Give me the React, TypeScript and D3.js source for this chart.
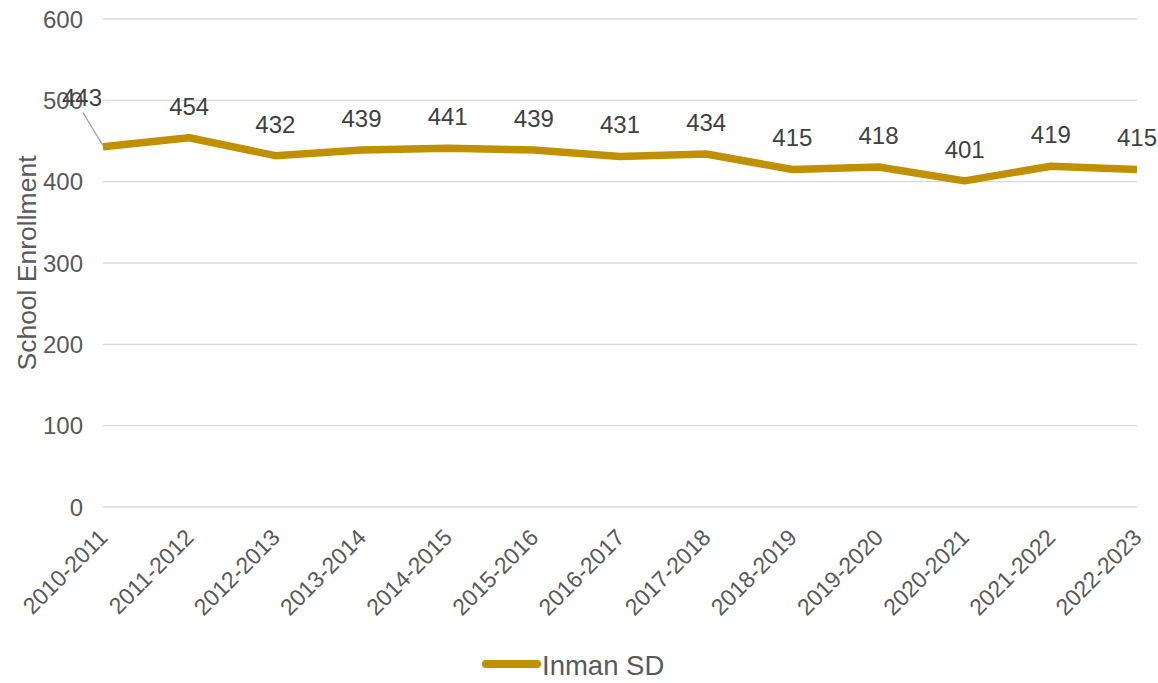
import React, { useEffect, useRef } from 'react';
import * as d3 from 'd3';

const years = [
  '2010-2011', '2011-2012', '2012-2013', '2013-2014', '2014-2015', '2015-2016', '2016-2017',
  '2017-2018', '2018-2019', '2019-2020', '2020-2021', '2021-2022', '2022-2023',
];
const enrollment = [443, 454, 432, 439, 441, 439, 431, 434, 415, 418, 401, 419, 415];
const yTicks = [0, 100, 200, 300, 400, 500, 600];
const seriesName = 'Inman SD';

export default function App() {
  const ref = useRef<SVGSVGElement | null>(null);

  useEffect(() => {
    if (!ref.current) return;
    const svg = d3.select(ref.current);
    svg.selectAll('*').remove();

    const W = 1158, H = 683;
    const left = 103, right = 1137, top = 19, bottom = 507;
    const font = 'Liberation Sans, Arial, sans-serif';
    const color = '#BF9000';

    const x = d3.scalePoint<string>().domain(years).range([left, right]).padding(0);
    const y = d3.scaleLinear().domain([0, 600]).range([bottom, top]);

    svg.attr('width', W).attr('height', H);

    // gridlines
    svg.append('g').selectAll('line').data(yTicks).enter().append('line')
      .attr('x1', left).attr('x2', right)
      .attr('y1', d => y(d)).attr('y2', d => y(d))
      .attr('stroke', '#d9d9d9').attr('stroke-width', 1.3);

    // y tick labels
    svg.append('g').selectAll('text').data(yTicks).enter().append('text')
      .attr('x', 83).attr('y', d => y(d)).attr('dy', '0.36em')
      .attr('text-anchor', 'end').attr('font-family', font).attr('font-size', 24)
      .attr('fill', '#595959').text(d => d);

    // y title
    svg.append('text')
      .attr('transform', `translate(36, ${(top + bottom) / 2}) rotate(-90)`)
      .attr('text-anchor', 'middle').attr('font-family', font).attr('font-size', 26.5)
      .attr('fill', '#595959').text('School Enrollment');

    // x tick labels
    svg.append('g').selectAll('text').data(years).enter().append('text')
      .attr('transform', d => `translate(${(x(d) as number) + 6}, ${bottom + 32}) rotate(-45)`)
      .attr('text-anchor', 'end').attr('font-family', font).attr('font-size', 23)
      .attr('fill', '#595959').text(d => d);

    // line
    const line = d3.line<number>()
      .x((_, i) => x(years[i]) as number)
      .y(d => y(d));
    svg.append('path').datum(enrollment)
      .attr('d', line)
      .attr('fill', 'none').attr('stroke', color).attr('stroke-width', 7.5)
      .attr('stroke-linejoin', 'round');

    // data labels
    const lbl = svg.append('g');
    enrollment.forEach((v, i) => {
      const px = x(years[i]) as number;
      const py = y(v);
      if (i === 0) {
        lbl.append('line')
          .attr('x1', px - 20).attr('y1', py - 34).attr('x2', px).attr('y2', py - 1)
          .attr('stroke', '#a6a6a6').attr('stroke-width', 1.3);
        lbl.append('text')
          .attr('x', px - 21).attr('y', py - 41)
          .attr('text-anchor', 'middle').attr('font-family', font).attr('font-size', 24)
          .attr('fill', '#404040').text(v);
      } else {
        lbl.append('text')
          .attr('x', px).attr('y', py - 23)
          .attr('text-anchor', 'middle').attr('font-family', font).attr('font-size', 24)
          .attr('fill', '#404040').text(v);
      }
    });

    // legend
    const lg = svg.append('g');
    lg.append('line')
      .attr('x1', 486).attr('x2', 537).attr('y1', 664).attr('y2', 664)
      .attr('stroke', color).attr('stroke-width', 8).attr('stroke-linecap', 'round');
    lg.append('text')
      .attr('x', 542).attr('y', 675)
      .attr('font-family', font).attr('font-size', 27.5)
      .attr('fill', '#595959').text(seriesName);
  }, []);

  return (
    <div style={{ position: 'absolute', left: 0, top: 0, background: '#fff' }}>
      <svg ref={ref} style={{ display: 'block' }} />
    </div>
  );
}
